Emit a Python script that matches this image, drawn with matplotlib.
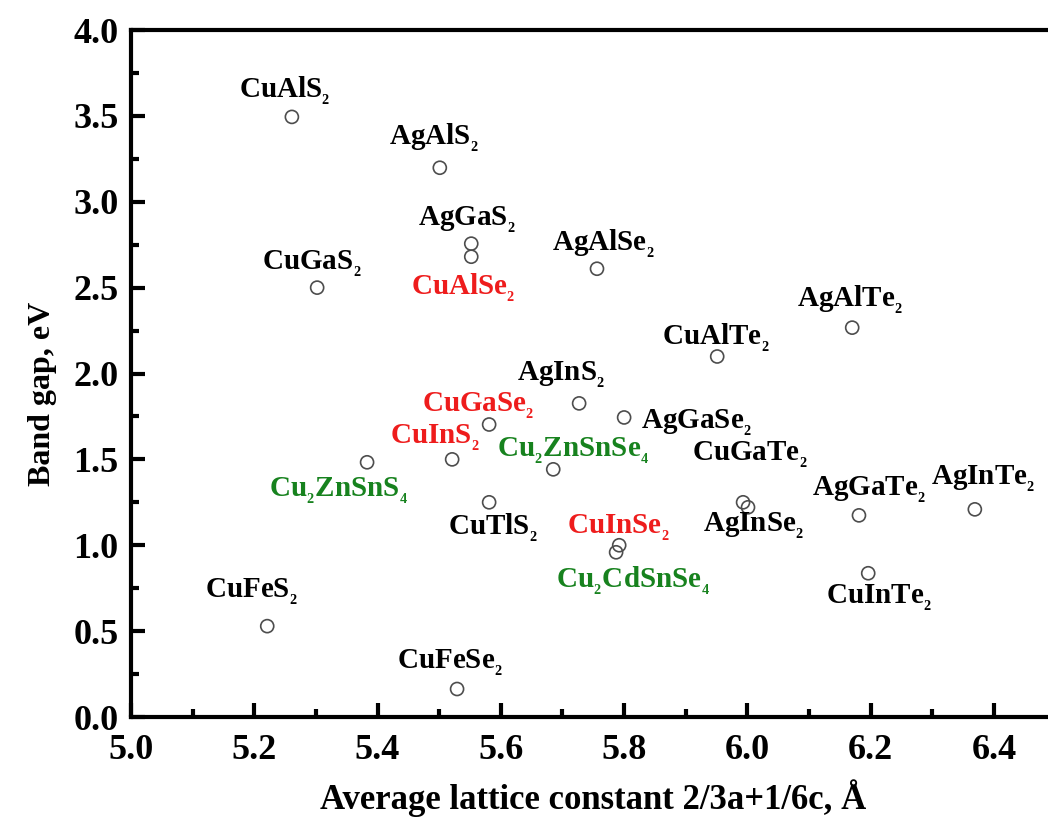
import matplotlib
matplotlib.use("Agg")
import matplotlib.pyplot as plt
from matplotlib.ticker import MultipleLocator, FormatStrFormatter

plt.rcParams['font.family'] = ['Liberation Serif', 'DejaVu Serif']
plt.rcParams['font.weight'] = 'bold'
plt.rcParams['mathtext.fontset'] = 'custom'
plt.rcParams['mathtext.rm'] = 'Liberation Serif:bold'
plt.rcParams['mathtext.it'] = 'Liberation Serif:bold'
plt.rcParams['mathtext.bf'] = 'Liberation Serif:bold'

# data
compounds = ['CuAlS$_{_2}$', 'AgAlS$_{_2}$', 'AgGaS$_{_2}$', 'CuAlSe$_{_2}$', 'CuGaS$_{_2}$', 'AgAlSe$_{_2}$',
             'AgAlTe$_{_2}$', 'CuAlTe$_{_2}$', 'AgInS$_{_2}$', 'CuGaSe$_{_2}$', 'AgGaSe$_{_2}$', 'CuInS$_{_2}$',
             'Cu$_{_2}$ZnSnSe$_{_4}$', 'Cu$_{_2}$ZnSnS$_{_4}$', 'CuTlS$_{_2}$', 'CuGaTe$_{_2}$', 'AgInSe$_{_2}$',
             'AgGaTe$_{_2}$', 'AgInTe$_{_2}$', 'CuInSe$_{_2}$', 'Cu$_{_2}$CdSnSe$_{_4}$', 'CuInTe$_{_2}$',
             'CuFeS$_{_2}$', 'CuFeSe$_{_2}$']
lattice = [5.261, 5.501, 5.552, 5.552, 5.302, 5.756,
           6.170, 5.951, 5.727, 5.581, 5.800, 5.521,
           5.685, 5.383, 5.581, 5.993, 6.001,
           6.181, 6.369, 5.792, 5.787, 6.196,
           5.221, 5.529]
band_gap = [3.494, 3.198, 2.756, 2.680, 2.500, 2.610,
            2.267, 2.099, 1.826, 1.703, 1.744, 1.500,
            1.442, 1.483, 1.250, 1.250, 1.221,
            1.174, 1.209, 1.000, 0.959, 0.837,
            0.529, 0.163]
group = ['k', 'k', 'k', 'r', 'k', 'k',
         'k', 'k', 'k', 'r', 'k', 'r',
         'g', 'g', 'k', 'k', 'k',
         'k', 'k', 'r', 'g', 'k',
         'k', 'k']

# label offsets (pixels) - layout only
label_offsets = [(-7, 26), (-6, 30), (-4, 24), (-8, -31), (-5, 24), (6, 25),
                 (-2, 28), (-1, 19), (-18, 28), (-11, 19), (72, -5), (-17, 21),
                 (20, 18), (-28, -29), (4, -26), (7, 47), (6, -19),
                 (10, 25), (8, 30), (-1, 17), (17, -29), (11, -25),
                 (-16, 34), (-7, 26)]
color_map = {'k': 'black', 'r': '#ee1c1c', 'g': '#17821e'}

fig = plt.figure(figsize=(10.48, 8.31), dpi=100)
ax = fig.add_axes([131 / 1048, 1 - 717 / 831, 924.6 / 1048, 687 / 831])

ax.scatter(lattice, band_gap, s=88, facecolors='none', edgecolors='#4d4d4d',
           linewidths=1.2, zorder=3)

for name, x, y, g, off in zip(compounds, lattice, band_gap, group, label_offsets):
    ax.annotate(name, (x, y), xytext=off, textcoords='offset pixels',
                ha='center', va='center', fontsize=21, fontweight='bold',
                color=color_map[g])

ax.set_xlim(5.0, 6.5)
ax.set_ylim(0.0, 4.0)
ax.xaxis.set_major_locator(MultipleLocator(0.2))
ax.xaxis.set_minor_locator(MultipleLocator(0.1))
ax.yaxis.set_major_locator(MultipleLocator(0.5))
ax.yaxis.set_minor_locator(MultipleLocator(0.25))
ax.xaxis.set_major_formatter(FormatStrFormatter('%.1f'))
ax.yaxis.set_major_formatter(FormatStrFormatter('%.1f'))

for sp in ax.spines.values():
    sp.set_linewidth(3)
ax.tick_params(which='major', direction='in', length=10, width=3, labelsize=26)
ax.tick_params(which='minor', direction='in', length=6, width=3)
ax.tick_params(axis='x', which='both', pad=12, top=False)
ax.tick_params(axis='y', which='both', pad=9, right=False)
for lab in ax.get_xticklabels() + ax.get_yticklabels():
    lab.set_fontweight('bold')

ax.set_xlabel('Average lattice constant 2/3a+1/6c, Å', fontsize=25, fontweight='bold', labelpad=9)
ax.set_ylabel('Band gap, eV', fontsize=23, fontweight='bold')
ax.yaxis.set_label_coords(-0.08, 0.47)

fig.savefig('out.png', dpi=100)
